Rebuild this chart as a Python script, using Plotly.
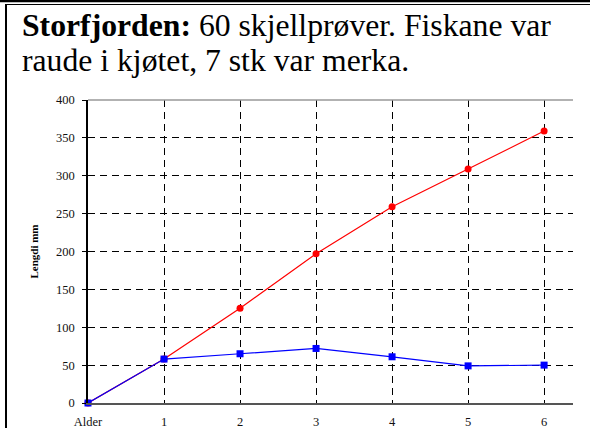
import plotly.graph_objects as go

ages = [0, 1, 2, 3, 4, 5, 6]
age_labels = ["Alder", "1", "2", "3", "4", "5", "6"]
red_values = [0, 58, 125, 197, 259, 309, 359]
blue_values = [0, 58, 65, 72, 61, 49, 50]
y_ticks = [0, 50, 100, 150, 200, 250, 300, 350, 400]

SERIF = "Liberation Serif"
L, T, W, H = 88, 100, 485, 303  # plot area in px


def px_x(x):
    return (x - L) / W


def px_y(y):
    return 1 + (T - y) / H


fig = go.Figure()
fig.add_trace(go.Scatter(
    x=ages, y=red_values, mode="lines+markers",
    line=dict(color="#ff0000", width=1.2),
    marker=dict(symbol="circle", size=7, color="#ff0000"),
    showlegend=False, cliponaxis=False,
))
fig.add_trace(go.Scatter(
    x=ages, y=blue_values, mode="lines+markers",
    line=dict(color="#0000ff", width=1.2),
    marker=dict(symbol="square", size=7, color="#0000ff"),
    showlegend=False, cliponaxis=False,
))

fig.update_layout(
    width=590, height=428,
    margin=dict(l=L, r=590 - L - W, t=T, b=428 - T - H, autoexpand=False),
    paper_bgcolor="white", plot_bgcolor="white",
    font=dict(family=SERIF, color="black", size=12),
    xaxis=dict(
        range=[0, 6.38], tickvals=ages, ticktext=age_labels,
        showgrid=True, gridcolor="black", gridwidth=1, griddash="7px,5px",
        zeroline=False, showline=True, linecolor="#555555", linewidth=1.5,
        ticks="", ticklabelstandoff=6, automargin=False,
        tickfont=dict(family=SERIF, size=12.5, color="#111111"),
        fixedrange=True,
    ),
    yaxis=dict(
        range=[0, 400], tickvals=y_ticks,
        showgrid=True, gridcolor="black", gridwidth=1, griddash="7px,5px",
        zeroline=False, showline=True, linecolor="black", linewidth=1.5,
        ticks="outside", ticklen=4, tickcolor="black", ticklabelstandoff=5,
        automargin=False,
        tickfont=dict(family=SERIF, size=12.5, color="#111111"),
        title=dict(text="<b>Lengdi mm</b>", font=dict(family=SERIF, size=11, color="black"), standoff=15),
        fixedrange=True,
    ),
    shapes=[
        dict(type="line", xref="paper", yref="paper", x0=0, x1=1, y0=1, y1=1,
             line=dict(color="#999999", width=1.5), layer="above"),
        dict(type="line", xref="paper", yref="paper", x0=px_x(0), x1=px_x(590),
             y0=px_y(1), y1=px_y(1), line=dict(color="black", width=2.5)),
        dict(type="line", xref="paper", yref="paper", x0=px_x(5), x1=px_x(590),
             y0=px_y(4.5), y1=px_y(4.5), line=dict(color="black", width=1.2)),
        dict(type="line", xref="paper", yref="paper", x0=px_x(6), x1=px_x(6),
             y0=px_y(4), y1=px_y(428), line=dict(color="black", width=2)),
    ],
    annotations=[
        dict(text="<b>Storfjorden:</b> 60 skjellprøver. Fiskane var",
             xref="paper", yref="paper", x=px_x(20), y=px_y(25),
             xanchor="left", yanchor="middle", showarrow=False,
             font=dict(family=SERIF, size=31.7, color="black")),
        dict(text="raude i kjøtet, 7 stk var merka.",
             xref="paper", yref="paper", x=px_x(20), y=px_y(61),
             xanchor="left", yanchor="middle", showarrow=False,
             font=dict(family=SERIF, size=31.7, color="black")),
    ],
)

fig.write_html(
    "out.html",
    config={"displayModeBar": False},
    post_script="document.body.style.margin='0';document.body.style.overflow='hidden';",
)
